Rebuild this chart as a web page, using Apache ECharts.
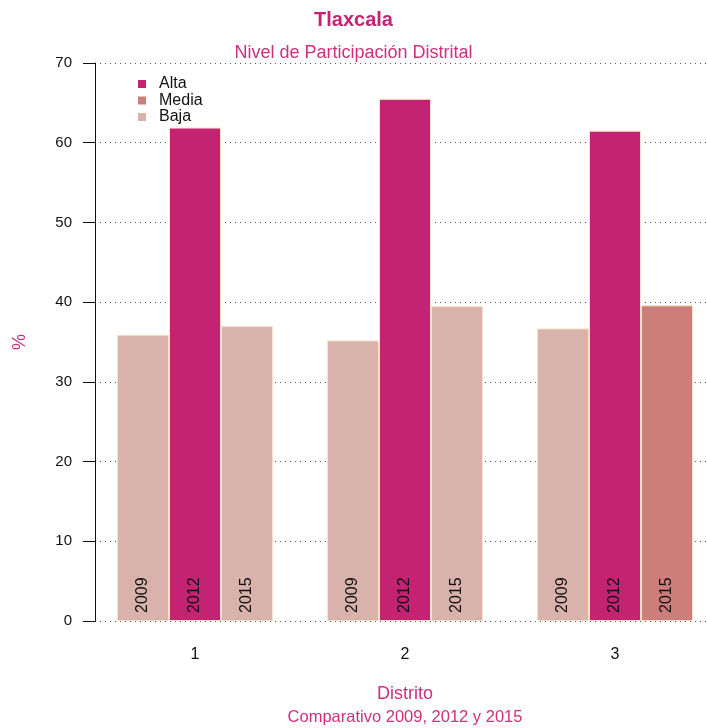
<!DOCTYPE html>
<html>
<head>
<meta charset="utf-8">
<script src="https://cdn.jsdelivr.net/npm/echarts@6/dist/echarts.min.js"></script>
<style>
  html, body { margin: 0; padding: 0; background: #fff; }
  #chart { width: 707px; height: 728px; }
</style>
</head>
<body>
<div id="chart"></div>
<script>
// datos
var distritos = ['1', '2', '3'];
var anios = ['2009', '2012', '2015'];
var valores2009 = [35.9, 35.2, 36.7];
var valores2012 = [61.9, 65.5, 61.5];
var valores2015 = [37.0, 39.5, 39.6];
var nivel2009 = ['Baja', 'Baja', 'Baja'];
var nivel2012 = ['Alta', 'Alta', 'Alta'];
var nivel2015 = ['Baja', 'Baja', 'Media'];
var niveles = ['Alta', 'Media', 'Baja'];
var yTicks = [0, 10, 20, 30, 40, 50, 60, 70];

var colores = { Alta: '#C42374', Media: '#CD7E7B', Baja: '#D9B3AB' };
var rosa = '#CE2F7E';

function serie(nombre, vals, nivs) {
    var data = [];
    for (var i = 0; i < vals.length; i++) {
        data.push({ value: vals[i], itemStyle: { color: colores[nivs[i]] } });
    }
    return {
        name: nombre,
        type: 'bar',
        barWidth: 52,
        barGap: '0%',
        data: data,
        itemStyle: { borderColor: '#F4E2C6', borderWidth: 1 },
        label: {
            show: true,
            position: 'insideBottom',
            rotate: 90,
            align: 'left',
            verticalAlign: 'middle',
            distance: 8,
            formatter: nombre,
            color: '#111',
            fontSize: 16,
            fontFamily: 'Liberation Sans'
        },
        silent: true
    };
}

var series = [
    serie(anios[0], valores2009, nivel2009),
    serie(anios[1], valores2012, nivel2012),
    serie(anios[2], valores2015, nivel2015)
];
// series vacias solo para la leyenda
for (var i = 0; i < niveles.length; i++) {
    series.push({ name: niveles[i], type: 'line', data: [], itemStyle: { color: colores[niveles[i]] }, lineStyle: { color: colores[niveles[i]] } });
}

var chart = echarts.init(document.getElementById('chart'));
var option = {
    animation: false,
    textStyle: { fontFamily: 'Liberation Sans' },
    title: [
        { text: 'Tlaxcala', left: 'center', top: 5, textStyle: { color: '#C42374', fontSize: 20, fontWeight: 'bold', fontFamily: 'Liberation Sans' } },
        { text: 'Nivel de Participación Distrital', left: 'center', top: 39, textStyle: { color: rosa, fontSize: 18, fontWeight: 'normal', fontFamily: 'Liberation Sans' } }
    ],
    legend: {
        data: niveles,
        orient: 'vertical',
        left: 133,
        top: 71,
        icon: 'rect',
        itemWidth: 8,
        itemHeight: 8,
        itemGap: 0.5,
        textStyle: { color: '#111', fontSize: 16, lineHeight: 16, fontFamily: 'Liberation Sans', padding: [0, 0, 0, 8] }
    },
    grid: { left: 90, width: 630, top: 63, bottom: 107, outerBoundsMode: 'none' },
    xAxis: {
        type: 'category',
        data: distritos,
        axisLine: { show: false },
        axisTick: { show: false },
        axisLabel: { color: '#111', fontSize: 16, margin: 26 },
        name: '{a|Distrito}\n{b|Comparativo 2009, 2012 y 2015}',
        nameLocation: 'middle',
        nameGap: 62,
        nameTextStyle: {
            rich: {
                a: { color: rosa, fontSize: 18, lineHeight: 23, align: 'center' },
                b: { color: rosa, fontSize: 16.5, lineHeight: 23, align: 'center' }
            }
        }
    },
    yAxis: {
        type: 'value',
        min: 0,
        max: 70,
        interval: 10,
        offset: -5,
        axisLine: { show: true, lineStyle: { color: '#111' } },
        axisTick: { show: true, length: 12, lineStyle: { color: '#111' } },
        axisLabel: { color: '#111', fontSize: 15, margin: 23, formatter: function (v) { return yTicks.indexOf(v) >= 0 ? String(v) : ''; } },
        splitLine: { show: true, lineStyle: { color: '#555', type: [1, 4], width: 1 } },
        name: '%',
        nameLocation: 'middle',
        nameGap: 66,
        nameTextStyle: { color: rosa, fontSize: 18 }
    },
    series: series
};
chart.setOption(option, true);
</script>
</body>
</html>
